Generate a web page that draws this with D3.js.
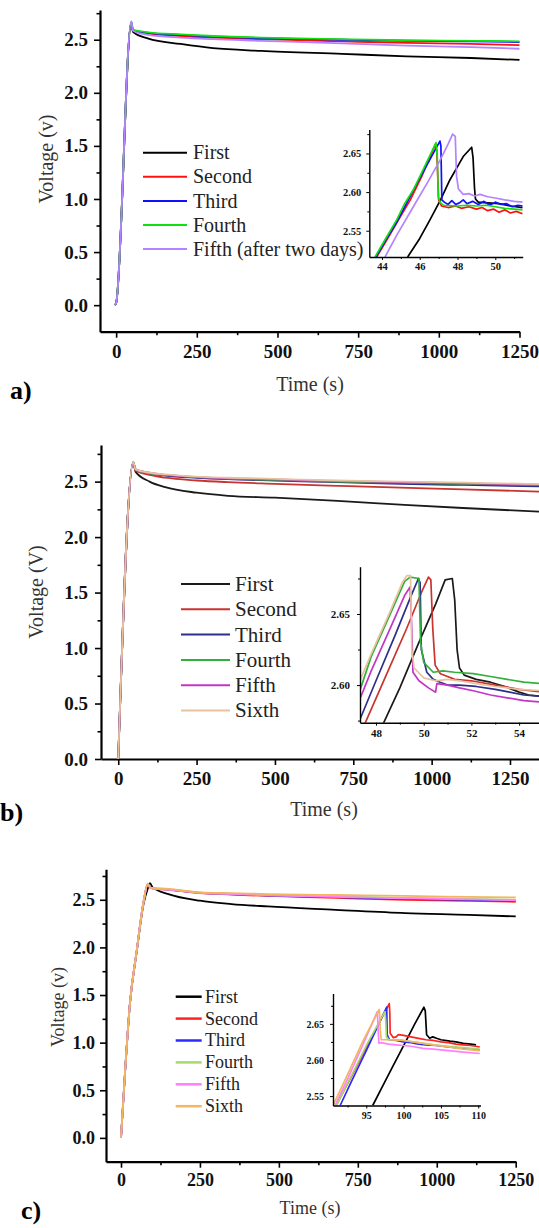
<!DOCTYPE html>
<html>
<head>
<meta charset="utf-8">
<script src="https://cdn.jsdelivr.net/npm/d3@7"></script>
<style>
  body { margin: 0; background: #fff; }
  svg { display: block; }
  svg text { font-family: "Liberation Serif", "Times New Roman", serif; }
</style>
</head>
<body>
<svg id="chart" width="539" height="1228"></svg>
<script>
// ---------- panel a: five runs ----------
const namesA = ["First", "Second", "Third", "Fourth", "Fifth (after two days)"];
const timeA = [-4, 0, 47, 52, 100, 200, 300, 450, 700, 900, 1100, 1250];
const firstA  = [0, 0.02, 2.658, 2.575, 2.51, 2.46, 2.42, 2.395, 2.367, 2.344, 2.328, 2.31];
const secondA = [0, 0.02, 2.661, 2.59, 2.56, 2.535, 2.52, 2.505, 2.485, 2.47, 2.46, 2.45];
const thirdA  = [0, 0.02, 2.666, 2.59, 2.565, 2.545, 2.53, 2.515, 2.50, 2.49, 2.485, 2.478];
const fourthA = [0, 0.02, 2.664, 2.595, 2.57, 2.55, 2.535, 2.52, 2.505, 2.495, 2.49, 2.485];
const fifthA  = [0, 0.02, 2.675, 2.585, 2.545, 2.52, 2.505, 2.49, 2.465, 2.445, 2.43, 2.415];

const insetFirstA = [[45.36,2.516],[46.0,2.54],[46.54,2.564],[47.1,2.59],[47.6,2.616],[48.0,2.633],[48.3,2.646],[48.75,2.658],[48.82,2.645],[48.9,2.605],[48.95,2.591],[49.1,2.587],[49.6,2.586],[50.2,2.585],[50.8,2.582],[51.45,2.58]];
const insetSecondA = [[43.72,2.516],[44.3,2.54],[44.9,2.565],[45.5,2.59],[46.1,2.62],[46.82,2.661],[46.9,2.655],[47.0,2.59],[47.15,2.582],[47.5,2.58],[47.9,2.582],[48.2,2.579],[48.6,2.581],[49.0,2.578],[49.3,2.58],[49.6,2.576],[49.9,2.578],[50.2,2.574],[50.5,2.577],[50.8,2.573],[51.1,2.575],[51.45,2.572]];
const insetThirdA = [[43.68,2.516],[44.2,2.538],[44.8,2.562],[45.4,2.59],[46.0,2.618],[46.6,2.645],[47.07,2.666],[47.12,2.66],[47.17,2.59],[47.3,2.587],[47.5,2.584],[47.7,2.589],[47.9,2.584],[48.1,2.586],[48.3,2.59],[48.5,2.585],[48.8,2.588],[49.1,2.584],[49.4,2.588],[49.7,2.583],[50.0,2.587],[50.3,2.584],[50.6,2.585],[50.9,2.581],[51.2,2.583],[51.45,2.582]];
const insetFourthA = [[43.63,2.516],[44.2,2.54],[44.78,2.564],[45.2,2.585],[45.66,2.603],[46.2,2.63],[46.86,2.664],[46.93,2.645],[46.98,2.594],[47.1,2.586],[47.25,2.583],[48.0,2.582],[48.5,2.583],[49.0,2.582],[49.5,2.583],[50.0,2.581],[50.5,2.579],[51.0,2.578],[51.45,2.577]];
const insetFifthA = [[44.16,2.516],[44.8,2.545],[45.66,2.581],[46.4,2.612],[47.07,2.641],[47.5,2.662],[47.74,2.675],[47.88,2.672],[47.95,2.62],[48.05,2.604],[48.3,2.597],[48.6,2.598],[48.9,2.595],[49.2,2.597],[49.6,2.594],[50.07,2.592],[50.5,2.590],[51.0,2.588],[51.45,2.587]];

// ---------- panel b: six runs ----------
const namesB = ["First", "Second", "Third", "Fourth", "Fifth", "Sixth"];
const timeB = [0, 48, 55, 100, 150, 250, 350, 500, 700, 900, 1100, 1400];
const firstB  = [0, 2.675, 2.59, 2.50, 2.45, 2.40, 2.372, 2.355, 2.326, 2.293, 2.262, 2.222];
const secondB = [0, 2.676, 2.60, 2.56, 2.535, 2.51, 2.495, 2.48, 2.462, 2.445, 2.43, 2.405];
const thirdB  = [0, 2.675, 2.61, 2.575, 2.555, 2.535, 2.522, 2.51, 2.495, 2.48, 2.47, 2.455];
const fourthB = [0, 2.676, 2.61, 2.575, 2.56, 2.54, 2.527, 2.515, 2.50, 2.49, 2.48, 2.465];
const fifthB  = [0, 2.669, 2.61, 2.58, 2.56, 2.54, 2.53, 2.52, 2.505, 2.495, 2.485, 2.47];
const sixthB  = [0, 2.677, 2.61, 2.58, 2.565, 2.545, 2.535, 2.525, 2.51, 2.50, 2.49, 2.475];

const insetFirstB = [[48.31,2.573],[49.0,2.598],[49.8,2.63],[50.5,2.657],[50.9,2.674],[51.2,2.675],[51.3,2.66],[51.4,2.625],[51.5,2.612],[51.7,2.607],[52.2,2.604],[52.8,2.602],[53.4,2.599],[54.0,2.595],[54.4,2.593],[55.0,2.592]];
const insetSecondB = [[47.54,2.573],[48.3,2.602],[49.29,2.64],[49.9,2.665],[50.2,2.676],[50.3,2.674],[50.38,2.64],[50.48,2.614],[50.7,2.608],[51.0,2.606],[51.3,2.604],[52.0,2.603],[53.0,2.600],[54.0,2.597],[55.0,2.595]];
const insetThirdB = [[47.26,2.573],[48.0,2.603],[48.8,2.635],[49.5,2.664],[49.78,2.675],[49.85,2.672],[49.9,2.625],[50.13,2.609],[50.4,2.604],[50.69,2.602],[51.0,2.600],[51.5,2.600],[52.2,2.599],[53.0,2.597],[53.6,2.595],[54.2,2.593],[55.0,2.592]];
const insetFourthB = [[47.2,2.59],[47.8,2.62],[48.6,2.65],[49.2,2.673],[49.43,2.676],[49.8,2.675],[49.87,2.63],[50.0,2.616],[50.4,2.609],[50.8,2.610],[51.3,2.609],[52.08,2.608],[52.8,2.606],[53.5,2.604],[54.2,2.602],[55.0,2.601]];
const insetFifthB = [[47.2,2.585],[47.8,2.61],[48.6,2.64],[49.2,2.663],[49.43,2.669],[49.5,2.64],[49.55,2.609],[49.8,2.603],[50.2,2.598],[50.5,2.595],[50.55,2.601],[51.0,2.600],[51.5,2.598],[52.08,2.596],[52.8,2.593],[53.5,2.591],[54.2,2.589],[55.0,2.588]];
const insetSixthB = [[47.2,2.598],[47.8,2.622],[48.6,2.652],[49.1,2.672],[49.29,2.677],[49.45,2.677],[49.5,2.625],[49.6,2.612],[50.0,2.605],[50.5,2.603],[51.0,2.604],[51.5,2.603],[52.2,2.601],[53.0,2.599],[54.0,2.597],[55.0,2.596]];

// ---------- panel c: six runs ----------
const namesC = ["First", "Second", "Third", "Fourth", "Fifth", "Sixth"];
const timeC = [0, 13, 28, 50, 71, 85, 92, 100, 150, 250, 350, 465, 680, 900, 1100, 1250];
const firstC  = [0, 0.70, 1.40, 1.96, 2.45, 2.62, 2.675, 2.63, 2.56, 2.49, 2.455, 2.43, 2.395, 2.36, 2.342, 2.325];
const secondC = [0, 0.70, 1.40, 1.97, 2.47, 2.67, 2.63, 2.62, 2.605, 2.57, 2.555, 2.54, 2.52, 2.50, 2.49, 2.479];
const thirdC  = [0, 0.70, 1.40, 1.97, 2.47, 2.665, 2.63, 2.62, 2.607, 2.573, 2.56, 2.545, 2.527, 2.51, 2.50, 2.49];
const fourthC = [0, 0.70, 1.40, 1.97, 2.47, 2.665, 2.63, 2.62, 2.608, 2.575, 2.563, 2.55, 2.535, 2.52, 2.51, 2.50];
const fifthC  = [0, 0.70, 1.40, 1.97, 2.47, 2.665, 2.625, 2.618, 2.606, 2.574, 2.561, 2.547, 2.53, 2.515, 2.505, 2.495];
const sixthC  = [0, 0.70, 1.40, 1.97, 2.47, 2.67, 2.63, 2.625, 2.615, 2.578, 2.57, 2.56, 2.55, 2.54, 2.53, 2.524];

const insetFirstC = [[95.86,2.537],[97,2.56],[98.5,2.59],[100,2.62],[101.5,2.65],[102.72,2.673],[102.9,2.668],[103.08,2.635],[103.5,2.630],[103.9,2.632],[104.4,2.630],[105,2.628],[106.2,2.626],[107,2.625],[108,2.623],[109,2.622],[109.7,2.621]];
const insetSecondC = [[90.96,2.537],[93,2.577],[95,2.617],[97,2.657],[98.08,2.678],[98.15,2.665],[98.2,2.637],[98.6,2.631],[99.0,2.632],[99.3,2.635],[100,2.634],[101,2.632],[102,2.630],[103,2.628],[104,2.627],[105,2.625],[106,2.624],[107,2.622],[108,2.621],[109,2.620],[110.2,2.618]];
const insetThirdC = [[91.5,2.537],[93,2.57],[95,2.613],[97,2.657],[97.73,2.673],[97.8,2.635],[98.1,2.628],[99,2.627],[100,2.625],[101,2.624],[102,2.622],[103,2.621],[104.4,2.62],[106,2.618],[108,2.616],[110.2,2.614]];
const insetFourthC = [[91.0,2.537],[93,2.578],[95,2.62],[97.5,2.667],[97.6,2.655],[97.7,2.632],[98,2.628],[99,2.628],[100,2.627],[102,2.624],[104,2.621],[106,2.619],[108,2.617],[110.2,2.615]];
const insetFifthC = [[90.8,2.537],[92.5,2.574],[94.5,2.62],[96.48,2.667],[96.6,2.64],[96.7,2.623],[97,2.624],[98,2.622],[99,2.621],[100,2.620],[101,2.619],[102.6,2.616],[104,2.615],[106,2.613],[108,2.611],[110.2,2.609]];
const insetSixthC = [[90.54,2.537],[92.5,2.58],[94.5,2.625],[96.74,2.670],[96.8,2.66],[96.87,2.642],[97.0,2.628],[98,2.628],[100,2.627],[102,2.624],[104,2.621],[106,2.618],[108,2.615],[110.2,2.613]];

// ---------- ticks ----------
const mainXTicks = [0, 250, 500, 750, 1000, 1250];
const mainYTicks = [0, 0.5, 1.0, 1.5, 2.0, 2.5];
const insetYTicksAC = [2.55, 2.60, 2.65];
const insetYTicksB = [2.60, 2.65];
const insetXTicksA = [44, 46, 48, 50];
const insetXTicksB = [48, 50, 52, 54];
const insetXTicksC = [95, 100, 105, 110];

const colorsA = ["#000000", "#ff1010", "#1010ff", "#10e010", "#b483ff"];
const colorsB = ["#1a1a1a", "#c8342e", "#2e2e8e", "#33b03c", "#c236c6", "#e8c29e"];
const colorsC = ["#000000", "#ff2222", "#2b2bff", "#a8d86c", "#ff80ff", "#f2b65e"];

const svg = d3.select("#chart");
const serif = '"Liberation Serif", "Times New Roman", serif';

function drawAxes(g, x, y, o) {
  const y0 = y.range()[0];
  const x0 = x.range()[0];
  const xm = g.append("g").attr("transform", `translate(0,${y0})`)
    .call(d3.axisBottom(x).tickValues(o.xMinor).tickSize(o.minorLen).tickFormat(""));
  xm.select(".domain").remove();
  const ym = g.append("g").attr("transform", `translate(${x0},0)`)
    .call(d3.axisLeft(y).tickValues(o.yMinor).tickSize(o.minorLen).tickFormat(""));
  ym.select(".domain").remove();
  const xa = g.append("g").attr("transform", `translate(0,${y0})`)
    .call(d3.axisBottom(x).tickValues(o.xTicks).tickSize(o.majorLen).tickSizeOuter(0)
      .tickPadding(o.xPad).tickFormat(o.xFmt));
  const ya = g.append("g").attr("transform", `translate(${x0},0)`)
    .call(d3.axisLeft(y).tickValues(o.yTicks).tickSize(o.majorLen).tickSizeOuter(0)
      .tickPadding(o.yPad).tickFormat(o.yFmt));
  [xm, ym, xa, ya].forEach(a => {
    a.selectAll(".tick line").attr("stroke", "#000").attr("stroke-width", o.tickW);
    a.select(".domain").attr("stroke", "#000").attr("stroke-width", o.axisW);
    a.selectAll("text").attr("font-family", serif).attr("font-weight", "bold")
      .attr("font-size", o.font).attr("fill", "#111");
  });
}

function drawPanel(p) {
  const g = svg.append("g");
  const x = d3.scaleLinear().domain(p.xDom).range(p.xRange);
  const y = d3.scaleLinear().domain(p.yDom).range(p.yRange);
  drawAxes(g, x, y, {
    xTicks: mainXTicks, yTicks: mainYTicks,
    xMinor: p.xMinor, yMinor: p.yMinor,
    majorLen: 6, minorLen: 3.5, tickW: 1.6, axisW: 2.2,
    xPad: p.xPad, yPad: p.yPad, font: p.tickFont,
    xFmt: d3.format("d"), yFmt: d3.format(".1f")
  });
  const line = d3.line().x(d => x(d[0])).y(d => y(d[1])).curve(d3.curveMonotoneX);
  p.series.forEach((s, i) => {
    g.append("path").datum(d3.zip(p.time, s))
      .attr("fill", "none").attr("stroke", p.colors[i]).attr("stroke-width", 1.8)
      .attr("stroke-linejoin", "round").attr("d", line);
  });

  // axis titles
  g.append("text").attr("x", p.xTitle[0]).attr("y", p.xTitle[1])
    .attr("text-anchor", "middle").attr("font-size", p.titleFont).attr("fill", "#333")
    .attr("font-family", serif).text("Time (s)");
  g.append("text").attr("transform", `translate(${p.yTitle[0]},${p.yTitle[1]}) rotate(-90)`)
    .attr("text-anchor", "middle").attr("font-size", p.titleFont).attr("fill", "#333")
    .attr("font-family", serif).text(p.yLabel);

  // panel letter
  g.append("text").attr("x", p.letterPos[0]).attr("y", p.letterPos[1])
    .attr("font-size", 26).attr("font-weight", "bold").attr("font-family", serif)
    .attr("fill", "#000").text(p.letter);

  // legend
  const lg = g.append("g");
  p.names.forEach((n, i) => {
    const yy = p.legend.y0 + i * p.legend.dy;
    lg.append("line").attr("x1", p.legend.x1).attr("x2", p.legend.x2)
      .attr("y1", yy).attr("y2", yy).attr("stroke", p.colors[i]).attr("stroke-width", p.legend.w);
    lg.append("text").attr("x", p.legend.tx).attr("y", yy).attr("dy", "0.33em")
      .attr("font-size", p.legend.font).attr("font-family", serif).attr("fill", "#222").text(n);
  });

  // inset
  const ins = p.inset;
  const ix = d3.scaleLinear().domain(ins.xDom).range(ins.xRange);
  const iy = d3.scaleLinear().domain(ins.yDom).range(ins.yRange);
  const gi = svg.append("g");
  const clipId = "clip" + p.letter.replace(")", "");
  gi.append("clipPath").attr("id", clipId).append("rect")
    .attr("x", ins.xRange[0]).attr("y", ins.yRange[1])
    .attr("width", ins.xRange[1] - ins.xRange[0]).attr("height", ins.yRange[0] - ins.yRange[1]);
  const iline = d3.line().x(d => ix(d[0])).y(d => iy(d[1]));
  const lines = gi.append("g").attr("clip-path", `url(#${clipId})`);
  ins.series.forEach((s, i) => {
    lines.append("path").datum(s).attr("fill", "none").attr("stroke", p.colors[i])
      .attr("stroke-width", 1.7).attr("stroke-linejoin", "round").attr("d", iline);
  });
  drawAxes(gi, ix, iy, {
    xTicks: ins.xTicks, yTicks: ins.yTicks, xMinor: ins.xMinor, yMinor: ins.yMinor,
    majorLen: 3, minorLen: 2, tickW: 1, axisW: 1.4,
    xPad: ins.xPad, yPad: ins.yPad, font: ins.font,
    xFmt: d3.format("d"), yFmt: d3.format(".2f")
  });
}

drawPanel({
  letter: "a)", letterPos: [10, 399],
  time: timeA, series: [firstA, secondA, thirdA, fourthA, fifthA], names: namesA, colors: colorsA,
  xDom: [-50, 1250], xRange: [100, 519.5], yDom: [-0.25, 2.78], yRange: [331.7, 10],
  xMinor: [125, 375, 625, 875, 1125], yMinor: [0.25, 0.75, 1.25, 1.75, 2.25, 2.75],
  xPad: 7, yPad: 6, tickFont: 19, titleFont: 20,
  xTitle: [310, 391], yTitle: [53, 159], yLabel: "Voltage (v)",
  legend: { x1: 143, x2: 187, tx: 193, y0: 152.7, dy: 24.1, font: 20, w: 2 },
  inset: {
    series: [insetFirstA, insetSecondA, insetThirdA, insetFourthA, insetFifthA],
    xDom: [43.33, 51.45], xRange: [369.3, 522.7], yDom: [2.516, 2.681], yRange: [257, 129.5],
    xTicks: insetXTicksA, yTicks: insetYTicksAC, xMinor: [45, 47, 49, 51], yMinor: [2.575, 2.625, 2.675],
    xPad: 3, yPad: 5, font: 10.5
  }
});

drawPanel({
  letter: "b)", letterPos: [0, 821],
  time: timeB, series: [firstB, secondB, thirdB, fourthB, fifthB, sixthB], names: namesB, colors: colorsB,
  xDom: [-55, 1400], xRange: [101, 557], yDom: [0, 2.83], yRange: [759, 445],
  xMinor: [125, 375, 625, 875, 1125, 1375], yMinor: [0.25, 0.75, 1.25, 1.75, 2.25, 2.75],
  xPad: 7, yPad: 7, tickFont: 19, titleFont: 20,
  xTitle: [324, 816], yTitle: [43, 592], yLabel: "Voltage (V)",
  legend: { x1: 181, x2: 230, tx: 235, y0: 584, dy: 25.3, font: 21, w: 2 },
  inset: {
    series: [insetFirstB, insetSecondB, insetThirdB, insetFourthB, insetFifthB, insetSixthB],
    xDom: [47.33, 55.5], xRange: [360, 554.9], yDom: [2.5735, 2.6833], yRange: [722.7, 566.7],
    xTicks: insetXTicksB, yTicks: insetYTicksB, xMinor: [49, 51, 53, 55], yMinor: [2.575, 2.625, 2.675],
    xPad: 4, yPad: 7, font: 11
  }
});

drawPanel({
  letter: "c)", letterPos: [21, 1219],
  time: timeC, series: [firstC, secondC, thirdC, fourthC, fifthC, sixthC], names: namesC, colors: colorsC,
  xDom: [-47.5, 1250], xRange: [106, 515.7], yDom: [-0.25, 2.82], yRange: [1161.7, 869.3],
  xMinor: [125, 375, 625, 875, 1125], yMinor: [0.25, 0.75, 1.25, 1.75, 2.25, 2.75],
  xPad: 6, yPad: 5, tickFont: 18, titleFont: 18,
  xTitle: [310, 1214], yTitle: [64, 1007], yLabel: "Voltage (v)",
  legend: { x1: 175.7, x2: 201.7, tx: 205, y0: 996.7, dy: 21.9, font: 18, w: 2.5 },
  inset: {
    series: [insetFirstC, insetSecondC, insetThirdC, insetFourthC, insetFifthC, insetSixthC],
    xDom: [90.54, 110.3], xRange: [333, 480.5], yDom: [2.537, 2.692], yRange: [1105.5, 993.5],
    xTicks: insetXTicksC, yTicks: insetYTicksAC, xMinor: [92.5, 97.5, 102.5, 107.5], yMinor: [2.575, 2.625, 2.675],
    xPad: 3, yPad: 6, font: 10
  }
});
</script>
</body>
</html>
